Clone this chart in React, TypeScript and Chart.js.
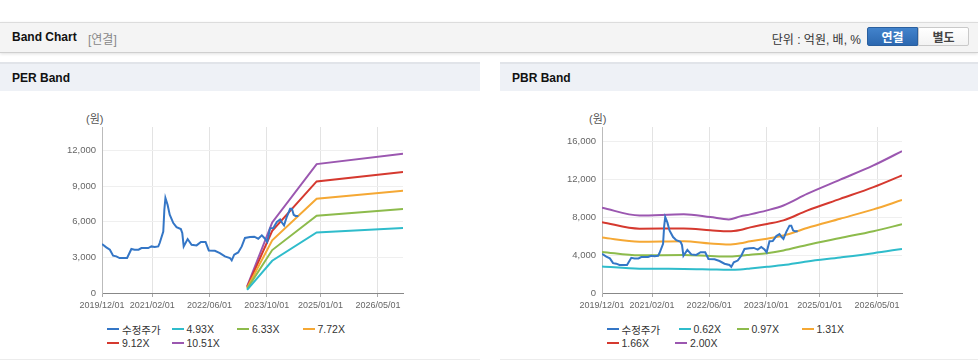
import React, { useEffect, useRef } from 'react';
import { Chart, registerables } from 'chart.js';

Chart.register(...registerables);

// ---------- data ----------
// x values are months counted from 2019/12/01
const xTickMonths = [0, 14, 30, 46, 61, 77];
const xTickLabels = ['2019/12/01', '2021/02/01', '2022/06/01', '2023/10/01', '2025/01/01', '2026/05/01'];

const priceMonths = [0, 1.2, 2.2, 3.1, 4.0, 4.9, 7.0, 8.2, 9.1, 10.2, 11.0, 12.9, 13.8, 14.7, 15.7, 16.1, 17.1, 17.4, 17.7, 18.3, 18.9, 19.9, 20.8, 22.0, 22.4, 22.8, 23.9, 25.0, 26.4, 27.6, 28.9, 29.8, 31.5, 32.9, 34.3, 35.7, 36.2, 36.9, 38.0, 39.0, 39.9, 41.3, 42.5, 43.6, 44.6, 45.5, 46.1, 46.9, 47.8, 48.8, 49.7, 50.3, 50.8, 51.6, 52.5, 53.0, 53.5, 54.0, 54.8];
const priceValues = [4130, 3845, 3650, 3145, 3090, 2950, 2950, 3710, 3650, 3650, 3790, 3790, 3930, 3880, 3930, 4215, 5190, 7020, 8010, 7440, 6600, 5900, 5560, 5390, 5060, 3930, 4550, 4070, 4015, 4300, 4300, 3590, 3560, 3370, 3090, 2950, 2750, 3230, 3420, 3930, 4640, 4720, 4750, 4580, 4860, 4580, 4300, 5450, 5480, 6000, 6200, 5900, 5700, 6450, 7100, 7100, 6600, 6500, 6500];

const perBandMonths = [40.5, 47.5, 59.9, 84];
const per493 = [270, 2720, 5110, 5480];
const per633 = [345, 3620, 6520, 7080];
const per772 = [420, 4440, 7950, 8620];
const per912 = [495, 5250, 9410, 10200];
const per1051 = [570, 5950, 10870, 11740];

const pbrBandMonths = [0, 10.5, 22.9, 30.3, 35.5, 38.7, 41.5, 46.2, 50.8, 57.4, 66.7, 76, 84];
const pbr062 = [2800, 2560, 2540, 2490, 2450, 2480, 2580, 2760, 2950, 3330, 3750, 4200, 4650];
const pbr097 = [4330, 3970, 4000, 3900, 3850, 3930, 4030, 4200, 4490, 5070, 5800, 6520, 7240];
const pbr131 = [5840, 5400, 5450, 5220, 5120, 5250, 5450, 5720, 6060, 6850, 7830, 8820, 9800];
const pbr166 = [7470, 6780, 6800, 6620, 6500, 6650, 6920, 7280, 7660, 8680, 9920, 11160, 12400];
const pbr200 = [8990, 8180, 8290, 8000, 7760, 8080, 8290, 8710, 9230, 10450, 11950, 13450, 14950];

const perLabels = ['수정주가', '4.93X', '6.33X', '7.72X', '9.12X', '10.51X'];
const pbrLabels = ['수정주가', '0.62X', '0.97X', '1.31X', '1.66X', '2.00X'];
const seriesColors = ['#3476c6', '#2fbccb', '#8dbb4c', '#f5a834', '#d5392f', '#9b57b0'];

const perYMax = 14000;
const perYTicks = [0, 3000, 6000, 9000, 12000];
const pbrYMax = 17500;
const pbrYTicks = [0, 4000, 8000, 12000, 16000];

const FONT = '"Liberation Sans", Arial, "Noto Sans CJK KR", sans-serif';

function pts(xs: number[], ys: number[]) {
  return xs.map((x, i) => ({ x, y: ys[i] }));
}

function fmt(v: number) {
  return String(v).replace(/\B(?=(\d{3})+(?!\d))/g, ',');
}

type BandProps = {
  left: number;
  width: number;
  plotLeft: number;
  plotRight: number;
  yMax: number;
  yTicks: number[];
  labels: string[];
  smooth: boolean;
  series: { xs: number[]; ys: number[] }[];
};

function BandCanvas(p: BandProps) {
  const ref = useRef<HTMLCanvasElement | null>(null);
  useEffect(() => {
    if (!ref.current) return;
    const chart = new Chart(ref.current, {
      type: 'line',
      data: {
        datasets: p.series.map((s, i) => ({
          label: p.labels[i],
          data: pts(s.xs, s.ys),
          borderColor: seriesColors[i],
          backgroundColor: seriesColors[i],
          borderWidth: 2,
          pointRadius: 0,
          tension: 0,
          cubicInterpolationMode: p.smooth && i > 0 ? 'monotone' : 'default',
          fill: false,
        })),
      },
      options: {
        animation: false,
        responsive: false,
        events: [],
        layout: { padding: { left: 0, top: 27, right: p.width - p.plotRight, bottom: 0 } },
        plugins: { legend: { display: false }, tooltip: { enabled: false }, title: { display: false } },
        scales: {
          x: {
            type: 'linear',
            min: 0,
            max: 84,
            afterBuildTicks: (s: any) => {
              s.ticks = xTickMonths.map((v) => ({ value: v }));
            },
            afterFit: (s: any) => {
              s.height = 22;
            },
            ticks: {
              autoSkip: false,
              maxRotation: 0,
              padding: 3,
              color: '#666',
              font: { size: 9, family: FONT },
              callback: (v: any) => {
                const i = xTickMonths.indexOf(Number(v));
                return i >= 0 ? xTickLabels[i] : '';
              },
            },
            grid: { color: '#e3e3e3', tickLength: 4, tickColor: '#aaa', drawTicks: true },
            border: { color: '#888', width: 1 },
          },
          y: {
            type: 'linear',
            min: 0,
            max: p.yMax,
            afterBuildTicks: (s: any) => {
              s.ticks = p.yTicks.map((v) => ({ value: v }));
            },
            afterFit: (s: any) => {
              s.width = p.plotLeft;
            },
            ticks: {
              autoSkip: false,
              padding: 6,
              color: '#666',
              font: { size: 9.5, family: FONT },
              callback: (v: any) => fmt(Number(v)),
            },
            grid: { color: '#efefef', drawTicks: false },
            border: { color: '#bbb', width: 1 },
          },
        },
      } as any,
    });
    return () => chart.destroy();
  }, []);
  return (
    <canvas
      ref={ref}
      width={p.width}
      height={215}
      style={{ position: 'absolute', left: p.left, top: 100, width: p.width, height: 215 }}
    />
  );
}

function Legend({ labels, lefts, rows }: { labels: string[]; lefts: number[]; rows: number[] }) {
  return (
    <>
      {labels.map((t, i) => (
        <div
          key={i}
          style={{
            position: 'absolute',
            left: lefts[i],
            top: rows[i] === 0 ? 322 : 336,
            height: 14,
            display: 'flex',
            alignItems: 'center',
            fontSize: 10.5,
            color: '#333',
            whiteSpace: 'nowrap',
          }}
        >
          <span style={{ display: 'inline-block', width: 12, height: 2, background: seriesColors[i], marginRight: 3 }} />
          <span>{t}</span>
        </div>
      ))}
    </>
  );
}

function PanelHeader({ left, width, title }: { left: number; width: number; title: string }) {
  return (
    <div
      style={{
        position: 'absolute',
        left,
        top: 62,
        width,
        height: 27,
        borderTop: '2px solid #e1e4e9',
        background: '#eef1f6',
        display: 'flex',
        alignItems: 'center',
        boxSizing: 'content-box',
      }}
    >
      <span style={{ marginLeft: 12, fontWeight: 'bold', fontSize: 12, color: '#111' }}>{title}</span>
    </div>
  );
}

export default function App() {
  const perSeries = [
    { xs: priceMonths, ys: priceValues },
    { xs: perBandMonths, ys: per493 },
    { xs: perBandMonths, ys: per633 },
    { xs: perBandMonths, ys: per772 },
    { xs: perBandMonths, ys: per912 },
    { xs: perBandMonths, ys: per1051 },
  ];
  const pbrSeries = [
    { xs: priceMonths, ys: priceValues },
    { xs: pbrBandMonths, ys: pbr062 },
    { xs: pbrBandMonths, ys: pbr097 },
    { xs: pbrBandMonths, ys: pbr131 },
    { xs: pbrBandMonths, ys: pbr166 },
    { xs: pbrBandMonths, ys: pbr200 },
  ];
  return (
    <div
      style={{
        position: 'absolute',
        left: 0,
        top: 0,
        width: 978,
        height: 362,
        background: '#fff',
        fontFamily: FONT,
        overflow: 'hidden',
      }}
    >
      {/* top header bar */}
      <div
        style={{
          position: 'absolute',
          left: 0,
          top: 22,
          width: 978,
          height: 29,
          background: '#f4f4f4',
          borderTop: '1px solid #dcdcdc',
          borderBottom: '1px solid #cfcfcf',
          boxShadow: '0 1px 3px rgba(0,0,0,0.12)',
        }}
      >
        <span style={{ position: 'absolute', left: 12, top: 7, fontWeight: 'bold', fontSize: 12, color: '#111' }}>
          Band Chart
        </span>
        <span style={{ position: 'absolute', left: 88, top: 7, fontSize: 12, color: '#888' }}>[연결]</span>
        <span style={{ position: 'absolute', right: 117, top: 7, fontSize: 12, color: '#333' }}>단위 : 억원, 배, %</span>
        <div
          style={{
            position: 'absolute',
            left: 867,
            top: 4,
            width: 51,
            height: 19,
            background: 'linear-gradient(#4283cc, #2c68b0)',
            border: '1px solid #2a5f9e',
            borderRadius: '2px 0 0 2px',
            boxSizing: 'border-box',
            color: '#fff',
            fontWeight: 'bold',
            fontSize: 12,
            display: 'flex',
            alignItems: 'center',
            justifyContent: 'center',
          }}
        >
          연결
        </div>
        <div
          style={{
            position: 'absolute',
            left: 918,
            top: 4,
            width: 51,
            height: 19,
            background: 'linear-gradient(#ffffff, #f3f3f3)',
            border: '1px solid #c9c9c9',
            borderRadius: '0 2px 2px 0',
            boxSizing: 'border-box',
            color: '#444',
            fontWeight: 'bold',
            fontSize: 12,
            display: 'flex',
            alignItems: 'center',
            justifyContent: 'center',
          }}
        >
          별도
        </div>
      </div>

      <PanelHeader left={0} width={480} title="PER Band" />
      <PanelHeader left={500} width={478} title="PBR Band" />

      <div style={{ position: 'absolute', left: 0, top: 359, width: 480, height: 1, background: '#ececec' }} />
      <div style={{ position: 'absolute', left: 500, top: 359, width: 478, height: 1, background: '#ececec' }} />

      <div style={{ position: 'absolute', left: 86, top: 110, fontSize: 11, color: '#555' }}>(원)</div>
      <div style={{ position: 'absolute', left: 589, top: 110, fontSize: 11, color: '#555' }}>(원)</div>

      <BandCanvas
        left={0}
        width={480}
        plotLeft={102}
        plotRight={403}
        yMax={perYMax}
        yTicks={perYTicks}
        labels={perLabels}
        smooth={false}
        series={perSeries}
      />
      <BandCanvas
        left={500}
        width={478}
        plotLeft={102}
        plotRight={402}
        yMax={pbrYMax}
        yTicks={pbrYTicks}
        labels={pbrLabels}
        smooth={true}
        series={pbrSeries}
      />

      <Legend labels={perLabels} lefts={[107, 171.5, 237, 302.5, 107, 171.5]} rows={[0, 0, 0, 0, 1, 1]} />
      <Legend labels={pbrLabels} lefts={[606.5, 678.5, 736.5, 801.5, 606.5, 675]} rows={[0, 0, 0, 0, 1, 1]} />
    </div>
  );
}
